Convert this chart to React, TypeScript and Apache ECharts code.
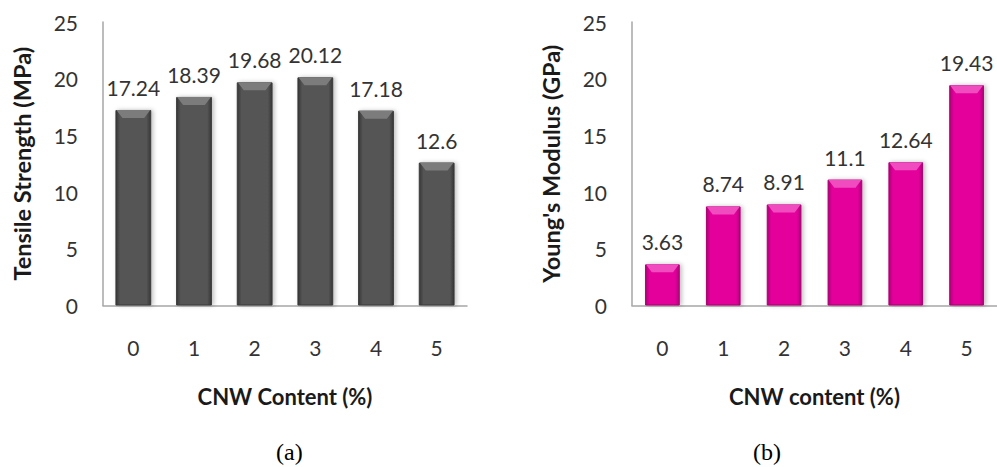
import React, { useEffect, useRef } from "react";
import * as echarts from "echarts";

const categories = ["0", "1", "2", "3", "4", "5"];
const tensileStrength = [17.24, 18.39, 19.68, 20.12, 17.18, 12.6];
const youngsModulus = [3.63, 8.74, 8.91, 11.1, 12.64, 19.43];
const yTicks = { min: 0, max: 25, interval: 5 };
const leftTitles = { x: "CNW Content (%)", y: "Tensile Strength (MPa)", caption: "(a)" };
const rightTitles = { x: "CNW content (%)", y: "Young's Modulus (GPa)", caption: "(b)" };

const FONT = "Lato";
const BEVEL = "path://M0,0 L100,0 L82,100 L18,100 Z";

function barGradient(edge: string, mid: string) {
  return new echarts.graphic.LinearGradient(0, 0, 1, 0, [
    { offset: 0, color: edge },
    { offset: 0.12, color: mid },
    { offset: 0.88, color: mid },
    { offset: 1, color: edge },
  ]);
}

export default function App() {
  const ref = useRef<HTMLDivElement>(null);
  useEffect(() => {
    if (!ref.current) return;
    const chart = echarts.init(ref.current, undefined, { renderer: "svg" });
    const axisCommon = (gridIndex: number, nameText: string) => ({
      type: "category" as const,
      gridIndex,
      data: categories,
      name: nameText,
      nameLocation: "middle" as const,
      nameGap: 80,
      nameTextStyle: { fontFamily: FONT, fontSize: 22, fontWeight: "bold", color: "#1a1a1a" },
      axisLine: { lineStyle: { color: "#a6a6a6", width: 1.5 } },
      axisTick: { show: false },
      axisLabel: { fontFamily: FONT, fontSize: 21, color: "#333", margin: 31 },
    });
    const yCommon = (gridIndex: number, nameText: string) => ({
      type: "value" as const,
      gridIndex,
      min: yTicks.min,
      max: yTicks.max,
      interval: yTicks.interval,
      name: nameText,
      nameLocation: "middle" as const,
      nameRotate: 90,
      nameGap: 69,
      nameTextStyle: { fontFamily: FONT, fontSize: 23.5, fontWeight: "bold", color: "#1a1a1a" },
      axisLine: { show: true, lineStyle: { color: "#a6a6a6", width: 1.5 } },
      axisTick: { show: false },
      splitLine: { show: false },
      axisLabel: { fontFamily: FONT, fontSize: 21, color: "#333", margin: 25 },
    });
    const label = {
      show: true,
      position: "top" as const,
      distance: 12,
      fontFamily: FONT,
      fontSize: 21,
      color: "#333",
    };
    chart.setOption({
      animation: false,
      grid: [
        { left: 103, top: 22, width: 364, height: 283.5 },
        { left: 632, top: 22, width: 369, height: 283.5 },
      ],
      xAxis: [axisCommon(0, leftTitles.x), axisCommon(1, rightTitles.x)],
      yAxis: [yCommon(0, leftTitles.y), yCommon(1, rightTitles.y)],
      series: [
        {
          type: "bar",
          xAxisIndex: 0,
          yAxisIndex: 0,
          data: tensileStrength,
          barWidth: "59%",
          label,
          itemStyle: {
            color: barGradient("#363636", "#555555"),
            borderColor: "#3a3a3a",
            borderWidth: 1,
            shadowColor: "rgba(0,0,0,0.25)",
            shadowBlur: 4,
            shadowOffsetX: 2,
          },
        },
        {
          type: "pictorialBar",
          xAxisIndex: 0,
          yAxisIndex: 0,
          data: tensileStrength,
          symbol: BEVEL,
          symbolSize: [34, 8],
          symbolPosition: "end",
          z: 3,
          silent: true,
          itemStyle: { color: "#7c7c7c" },
        },
        {
          type: "bar",
          xAxisIndex: 1,
          yAxisIndex: 1,
          data: youngsModulus,
          barWidth: "57%",
          label,
          itemStyle: {
            color: barGradient("#b0067a", "#e3069b"),
            borderColor: "#a8056f",
            borderWidth: 1,
            shadowColor: "rgba(0,0,0,0.25)",
            shadowBlur: 4,
            shadowOffsetX: 2,
          },
        },
        {
          type: "pictorialBar",
          xAxisIndex: 1,
          yAxisIndex: 1,
          data: youngsModulus,
          symbol: BEVEL,
          symbolSize: [33, 8],
          symbolPosition: "end",
          z: 3,
          silent: true,
          itemStyle: { color: "#f04cc0" },
        },
      ],
      graphic: [
        {
          type: "text",
          left: 276,
          top: 440,
          style: { text: leftTitles.caption, fontFamily: "Liberation Serif", fontSize: 24, fill: "#000" },
        },
        {
          type: "text",
          left: 753,
          top: 440,
          style: { text: rightTitles.caption, fontFamily: "Liberation Serif", fontSize: 24, fill: "#000" },
        },
      ],
    });
    return () => chart.dispose();
  }, []);
  return (
    <div
      ref={ref}
      style={{ position: "fixed", left: 0, top: 0, width: 997, height: 467, background: "#fff" }}
    />
  );
}
